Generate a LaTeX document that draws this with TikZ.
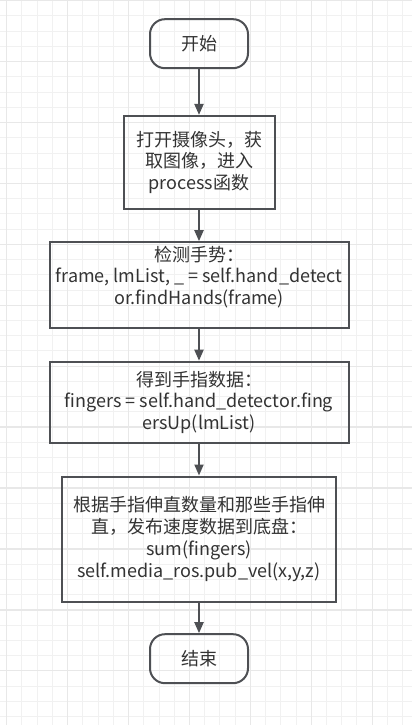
\documentclass[tikz,border=0pt]{standalone}
\usepackage{fontspec}
\setmainfont{Noto Sans CJK SC}
\usepackage{tikz}
\usepackage{xcolor}
\usetikzlibrary{arrows.meta}

\definecolor{gridminor}{RGB}{241,241,241}
\definecolor{gridmajor}{RGB}{232,232,232}
\definecolor{linegray}{RGB}{78,80,84}
\definecolor{textgray}{RGB}{51,51,51}

\begin{document}
\begin{tikzpicture}[x=1pt,y=-1pt,
        boxfont/.style={text=textgray,font=\fontsize{18}{21.7}\selectfont},
        terminal/.style={boxfont,draw=linegray,line width=2pt,rounded corners=15pt,minimum width=98pt,minimum height=49pt,inner sep=0pt},
        process/.style={boxfont,draw=linegray,line width=2pt,inner sep=0pt,align=center},
        flow/.style={draw=linegray,line width=2pt,-{Triangle[length=11pt,width=9pt]}}]
        \useasboundingbox (0,0) rectangle (412,725);
        \fill[white] (0,0) rectangle (412,725);
        \foreach \i in {0,...,26}
            \draw[gridminor,line width=1pt] ({6.7+15.23*\i},0) -- ({6.7+15.23*\i},725);
        \foreach \i in {0,...,47}
            \draw[gridminor,line width=1pt] (0,{0.7+15.23*\i}) -- (412,{0.7+15.23*\i});
        \foreach \i in {0,...,6}
            \draw[gridmajor,line width=1.3pt] ({6.7+60.92*\i},0) -- ({6.7+60.92*\i},725);
        \foreach \i in {0,...,11}
            \draw[gridmajor,line width=1.3pt] (0,{0.7+60.92*\i}) -- (412,{0.7+60.92*\i});

        \node[terminal] (start) at (199,43.7) {开始};
        \node[process,minimum width=151pt,minimum height=93pt] (camera) at (199,162.4) {打开摄像头，获\\取图像，进入\\process函数};
        \node[process,minimum width=299pt,minimum height=86pt] (detect) at (199,285.2) {检测手势：\\frame, lmList, \_ = self.hand\_detect\\or.findHands(frame)\\[-8pt]\strut};
        \node[process,minimum width=299pt,minimum height=81pt] (fingers) at (199,402.2) {得到手指数据：\\fingers = self.hand\_detector.fing\\ersUp(lmList)};
        \node[process,minimum width=274pt,minimum height=125pt] (publish) at (199,539) {根据手指伸直数量和那些手指伸\\直，发布速度数据到底盘：\\sum(fingers)\\self.media\_ros.pub\_vel(x,y,z)};
        \node[terminal] (finish) at (199,658.7) {结束};

        \draw[flow] (start) -- (camera);
        \draw[flow] (camera) -- (detect);
        \draw[flow] (detect) -- (fingers);
        \draw[flow] (fingers) -- (publish);
        \draw[flow] (publish) -- (finish);
    \end{tikzpicture}
\end{document}
